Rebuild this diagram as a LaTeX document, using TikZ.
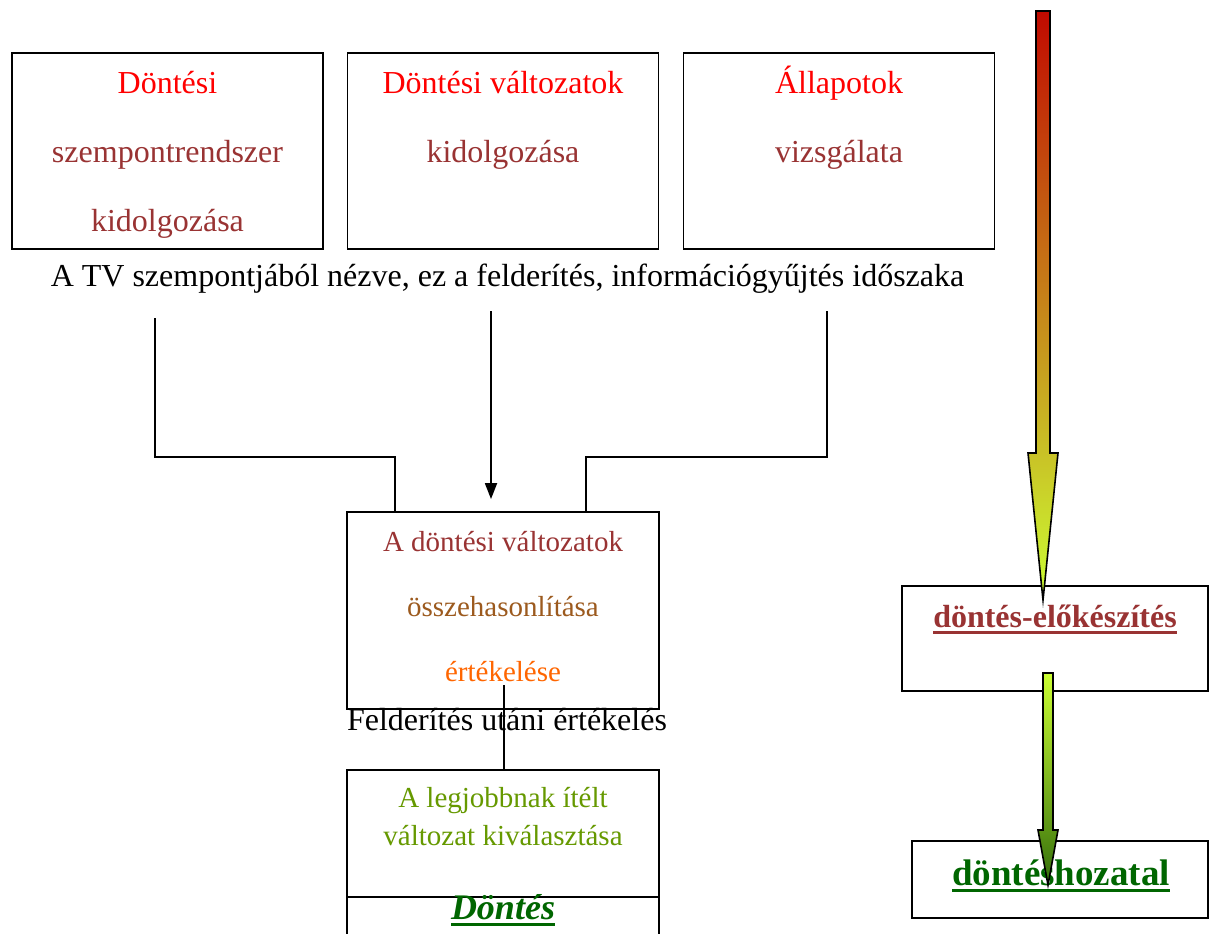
\documentclass[tikz,border=0pt]{standalone}
\usepackage{fontspec}
\setmainfont{Liberation Serif}
\usetikzlibrary{positioning,arrows.meta}

\definecolor{brickred}{HTML}{993333}
\definecolor{rusty}{HTML}{9C5A1E}
\definecolor{orangetxt}{HTML}{FF6600}
\definecolor{olivetxt}{HTML}{669900}
\definecolor{darkgreentxt}{HTML}{006600}
\newcommand{\thickul}[1]{\setbox0=\hbox{#1}\leavevmode\rlap{\rule[-7pt]{\wd0}{3.5pt}}\box0}

\begin{document}
\begin{tikzpicture}[x=1pt,y=-1pt,
  box/.style={draw,line width=1.8pt,inner sep=0pt,minimum width=311pt,minimum height=196pt},
  boxtxt/.style={align=center,inner sep=0pt,anchor=north,font=\fontsize{32}{69}\selectfont},
  conn/.style={line width=1.8pt}]
\clip (0,0) rectangle (1210,934);
\fill[white] (0,0) rectangle (1210,934);

% upper row
\node[box] (crit) at (167.5,151) {};
\node[box] (vari) at (503,151) {};
\node[box] (stat) at (839,151) {};
\node[boxtxt,below=19pt of crit.north] (crittxt) {\textcolor{red}{Döntési}\\ \textcolor{brickred}{szempontrendszer}\\ \textcolor{brickred}{kidolgozása}};
\node[boxtxt,below=19pt of vari.north] (varitxt) {\textcolor{red}{Döntési változatok}\\ \textcolor{brickred}{kidolgozása}};
\node[boxtxt,below=14pt of stat.north] (stattxt) {\textcolor{red}{Állapotok}\\ \textcolor{brickred}{vizsgálata}};
\node[anchor=base,inner sep=0pt,font=\fontsize{32}{38}\selectfont] (period) at (507.5,286) {A TV szempontjából nézve, ez a felderítés, információgyűjtés időszaka};

% comparison
\node[box,minimum width=312pt,minimum height=197pt] (cmp) at (503,610.5) {};
\node[boxtxt,font=\fontsize{29}{65}\selectfont,below=20pt of cmp.north] (cmptxt) {\textcolor{brickred}{A döntési változatok}\\ \textcolor{rusty}{összehasonlítása}\\ \textcolor{orangetxt}{értékelése}};
\node[anchor=base,inner sep=0pt,font=\fontsize{32}{38}\selectfont] (after) at (507,730) {Felderítés utáni értékelés};

\coordinate (l1) at (155,318);
\coordinate (m1) at (491,311);
\coordinate (r1) at (827,311);
\draw[conn] (l1) -- (155,457) -| ([xshift=-108pt]cmp.north);
\draw[conn] (r1) -- (827,457) -| ([xshift=83pt]cmp.north);
\draw[conn,-{Triangle[width=12pt,length=16pt]},shorten >=12pt] (m1) -- (m1 |- cmp.north);

% choice
\node[box,minimum width=312pt,minimum height=200pt] (best) at (503,870) {};
\coordinate (sep) at (0,897);
\draw[conn] (sep -| best.west) -- (sep -| best.east);
\node[boxtxt,font=\fontsize{29}{38}\selectfont,below=18pt of best.north] (besttxt) {\textcolor{olivetxt}{A legjobbnak ítélt}\\ \textcolor{olivetxt}{változat kiválasztása}};
\node[anchor=base,inner sep=0pt,font=\fontsize{36}{40}\selectfont\bfseries\itshape,text=darkgreentxt] (dec) at (503,919) {\thickul{Döntés}};
\coordinate (e1) at (504,685);
\draw[conn] (e1) -- (e1 |- best.north);

% right side
\node[box,minimum width=306pt,minimum height=105pt] (prep) at (1055,638.5) {};
\node[box,minimum width=296pt,minimum height=77pt] (make) at (1060,879.5) {};
\node[anchor=base,inner sep=0pt,font=\fontsize{32}{38}\selectfont\bfseries,text=brickred] (preptxt) at (1055,627) {\thickul{döntés-előkészítés}};
\node[anchor=base,inner sep=0pt,font=\fontsize{37}{42}\selectfont\bfseries,text=darkgreentxt] (maketxt) at (1061,885) {\thickul{döntéshozatal}};

\coordinate (bigtop) at (1043,11);
\coordinate (bigtip) at (1043,600);
\shade[draw,line width=1.6pt,top color={rgb,255:red,192;green,10;blue,0},middle color={rgb,255:red,200;green,150;blue,40},bottom color={rgb,255:red,204;green,255;blue,51}]
  (bigtop) ++(-7,0) -- ++(14,0) -- ++(0,442) -- ++(8,0) -- (bigtip) -- ++(-15,-147) -- ++(8,0) -- cycle;
\coordinate (smalltop) at (1048,673);
\coordinate (smalltip) at (1048,885);
\shade[draw,line width=1.6pt,top color={rgb,255:red,204;green,255;blue,51},bottom color={rgb,255:red,51;green,110;blue,10}]
  (smalltop) ++(-5,0) -- ++(10,0) -- ++(0,157) -- ++(5,0) -- (smalltip) -- ++(-10,-55) -- ++(5,0) -- cycle;
\end{tikzpicture}
\end{document}
